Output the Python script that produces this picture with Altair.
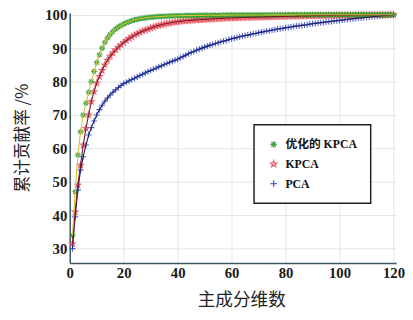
import altair as alt
import pandas as pd

dims = list(range(1, 121))

kpca_opt = [
    34.0, 47.0, 58.0, 65.0, 70.0, 73.5, 76.8, 80.0, 83.0, 85.7,
    88.0, 90.0, 91.7, 93.0, 94.1, 95.0, 95.7, 96.3, 96.8, 97.2,
    97.6, 97.9, 98.2, 98.45, 98.65, 98.8, 98.95, 99.05, 99.15, 99.25,
    99.32, 99.38, 99.44, 99.49, 99.53, 99.57, 99.6, 99.63, 99.66, 99.68,
    99.7, 99.72, 99.74, 99.75, 99.77, 99.78, 99.79, 99.8, 99.81, 99.82,
    99.83, 99.84, 99.85, 99.85, 99.86, 99.87, 99.87, 99.88, 99.88, 99.89,
    99.89, 99.9, 99.9, 99.9, 99.91, 99.91, 99.92, 99.92, 99.92, 99.93,
    99.93, 99.93, 99.94, 99.94, 99.94, 99.95, 99.95, 99.95, 99.95, 99.96,
    99.96, 99.96, 99.96, 99.97, 99.97, 99.97, 99.97, 99.97, 99.98, 99.98,
    99.98, 99.98, 99.98, 99.98, 99.99, 99.99, 99.99, 99.99, 99.99, 99.99,
    99.99, 99.99, 100.0, 100.0, 100.0, 100.0, 100.0, 100.0, 100.0, 100.0,
    100.0, 100.0, 100.0, 100.0, 100.0, 100.0, 100.0, 100.0, 100.0, 100.0,
]

kpca = [
    31.5, 41.0, 49.0, 55.0, 61.0, 66.0, 70.0, 74.0, 77.0, 79.5,
    81.5, 83.3, 85.0, 86.4, 87.6, 88.6, 89.5, 90.3, 91.0, 91.7,
    92.3, 92.9, 93.4, 93.9, 94.3, 94.7, 95.1, 95.4, 95.7, 96.0,
    96.3, 96.6, 96.8, 97.0, 97.2, 97.35, 97.5, 97.65, 97.8, 97.9,
    98.0, 98.1, 98.2, 98.25, 98.3, 98.4, 98.45, 98.5, 98.55, 98.6,
    98.65, 98.7, 98.75, 98.8, 98.85, 98.9, 98.93, 98.96, 99.0, 99.03,
    99.06, 99.09, 99.12, 99.15, 99.18, 99.2, 99.23, 99.25, 99.28, 99.3,
    99.32, 99.34, 99.36, 99.38, 99.4, 99.42, 99.44, 99.46, 99.48, 99.5,
    99.52, 99.54, 99.56, 99.58, 99.6, 99.62, 99.63, 99.65, 99.67, 99.68,
    99.7, 99.72, 99.73, 99.75, 99.76, 99.78, 99.79, 99.8, 99.82, 99.83,
    99.84, 99.85, 99.87, 99.88, 99.89, 99.9, 99.91, 99.92, 99.93, 99.94,
    99.95, 99.96, 99.96, 99.97, 99.98, 99.98, 99.99, 99.99, 100.0, 100.0,
]

pca = [
    30.0, 39.5, 47.5, 53.5, 57.5, 61.0, 64.0, 66.2, 68.2, 70.0,
    71.6, 72.9, 74.1, 75.1, 76.0, 76.8, 77.5, 78.2, 78.8, 79.4,
    79.8, 80.2, 80.6, 81.0, 81.4, 81.8, 82.2, 82.6, 83.0, 83.3,
    83.7, 84.0, 84.4, 84.7, 85.1, 85.4, 85.8, 86.1, 86.4, 86.7,
    87.1, 87.5, 87.9, 88.3, 88.7, 89.0, 89.4, 89.7, 90.0, 90.3,
    90.6, 90.9, 91.1, 91.4, 91.6, 91.9, 92.1, 92.3, 92.6, 92.8,
    93.0, 93.2, 93.4, 93.6, 93.8, 93.9, 94.1, 94.3, 94.4, 94.6,
    94.8, 94.9, 95.1, 95.2, 95.4, 95.5, 95.7, 95.8, 95.9, 96.1,
    96.2, 96.3, 96.5, 96.6, 96.7, 96.8, 96.9, 97.0, 97.2, 97.3,
    97.4, 97.5, 97.6, 97.7, 97.8, 97.9, 98.0, 98.1, 98.2, 98.3,
    98.4, 98.5, 98.6, 98.7, 98.8, 98.9, 99.0, 99.05, 99.15, 99.25,
    99.3, 99.4, 99.5, 99.55, 99.65, 99.7, 99.8, 99.85, 99.95, 100.0,
]

series_names = ["优化的 KPCA", "KPCA", "PCA"]
marker_colors = ["#2f9e2f", "#e85560", "#3d55cc"]
line_colors = ["#d8c23a", "#7a1428", "#1e1e5c"]
asterisk = "M-1,0L1,0M0,-1L0,1M-0.7,-0.7L0.7,0.7M-0.7,0.7L0.7,-0.7"
star = ("M0,-1L0.235,-0.324L0.951,-0.309L0.38,0.124L0.588,0.809L0,0.4"
        "L-0.588,0.809L-0.38,0.124L-0.951,-0.309L-0.235,-0.324Z")
plus = "M-1,0L1,0M0,-1L0,1"
shapes = [asterisk, star, plus]

x_ticks = [0, 20, 40, 60, 80, 100, 120]
y_ticks = [30, 40, 50, 60, 70, 80, 90, 100]

rows = []
for name, vals in [("PCA", pca), ("KPCA", kpca), ("优化的 KPCA", kpca_opt)]:
    for d, v in zip(dims, vals):
        rows.append({"dim": d, "rate": v, "series": name})
df = pd.DataFrame(rows)

label_font = "Liberation Serif, Noto Sans CJK SC"
cjk_font = "Noto Sans CJK SC"

x_enc = alt.X(
    "dim:Q",
    scale=alt.Scale(domain=[0, 121], nice=False),
    axis=alt.Axis(
        values=x_ticks, title="主成分维数", titleFont=cjk_font, titleFontSize=18,
        titleFontWeight="normal", titleColor="#222", titleX=175, titleY=38,
        titleAnchor="middle", titleBaseline="middle",
        labelFont="Liberation Serif", labelFontSize=15, labelFontWeight="bold",
        labelColor="#1a1a1a", labelPadding=3, ticks=False,
        domainColor="#3f5560", domainWidth=1.5,
        grid=True, gridColor="#dfe6ec", labelFlush=False,
    ),
)
y_enc = alt.Y(
    "rate:Q",
    scale=alt.Scale(domain=[25.7, 100.5], nice=False, zero=False),
    axis=alt.Axis(
        values=y_ticks, title="累计贡献率 /%", titleFont=cjk_font, titleFontSize=17,
        titleFontWeight="normal", titleColor="#222", titleX=-48, titleY=127,
        titleAngle=270, titleAlign="center", titleBaseline="middle",
        labelFont="Liberation Serif", labelFontSize=15, labelFontWeight="bold",
        labelColor="#1a1a1a", labelPadding=3, ticks=False,
        domainColor="#3f5560", domainWidth=1.5,
        grid=True, gridColor="#dfe6ec",
    ),
)

points = alt.Chart(df).mark_point(filled=False, size=38, strokeWidth=1.1, opacity=0.9).encode(
    x=x_enc,
    y=y_enc,
    color=alt.Color(
        "series:N",
        scale=alt.Scale(domain=series_names, range=marker_colors),
        legend=alt.Legend(
            title=None, orient="none", legendX=188, legendY=114,
            fillColor="white", strokeColor="#222",
            padding=14, rowPadding=8, labelFont=label_font, labelFontSize=12,
            labelFontWeight="bold", labelColor="#111", symbolSize=45,
            symbolStrokeWidth=1.3, labelOffset=6, labelLimit=200,
        ),
    ),
    shape=alt.Shape(
        "series:N",
        scale=alt.Scale(domain=series_names, range=shapes),
        legend=None,
    ),
)

lines = alt.Chart(df).mark_line(strokeWidth=1.1).encode(
    x=x_enc,
    y=y_enc,
    stroke=alt.Stroke(
        "series:N",
        scale=alt.Scale(domain=series_names, range=line_colors),
        legend=None,
    ),
)

chart = alt.layer(points, lines).properties(
    width=333,
    height=255,
    autosize=alt.AutoSizeParams(type="none"),
    padding={"left": 63, "top": 2, "right": 9, "bottom": 55},
    background="white",
).configure_view(stroke=None).configure_legend(strokeWidth=1.5)

chart.save("out.html", embed_options={"renderer": "svg", "actions": False})
